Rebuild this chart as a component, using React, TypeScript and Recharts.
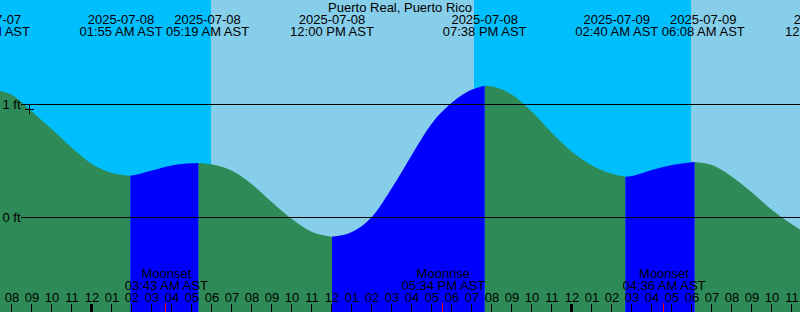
import React from 'react';
import {
  ComposedChart,
  Area,
  XAxis,
  YAxis,
  ReferenceArea,
  ReferenceLine,
  ReferenceDot,
} from 'recharts';

const W = 800;
const H = 312;
const FONT = '"Liberation Sans", Arial, sans-serif';

// hours counted from 2025-07-08 00:00 AST
const X_MIN = -4.6;
const X_MAX = 35.4;
const Y_MIN = -0.832;
const Y_MAX = 1.929;

const title = 'Puerto Real, Puerto Rico';

// hourly tide readings (ft)
const hours = [
  -6, -5, -4, -3, -2, -1, 0, 1, 2, 3, 4, 5, 6, 7, 8, 9, 10, 11, 13, 14, 15, 16, 17,
  18, 19, 20, 21, 22, 23, 24, 25, 26, 27, 28, 29, 30, 31, 32, 33, 34, 35, 36,
];
const heights = [
  1.09, 1.135, 1.088, 0.94, 0.785, 0.62, 0.478, 0.398, 0.376, 0.42, 0.465, 0.484, 0.473,
  0.419, 0.298, 0.139, -0.01, -0.124, -0.124, 0.01, 0.268, 0.56, 0.838, 1.021, 1.136,
  1.164, 1.091, 0.94, 0.752, 0.587, 0.465, 0.391, 0.372, 0.425, 0.469, 0.494, 0.469,
  0.365, 0.225, 0.071, -0.055, -0.16,
];

// high / low tides
const tideTimes = [-5.2, 1.917, 5.317, 12.0, 19.633, 26.667, 30.133, 36.75];
const tideHeights = [1.14, 0.374, 0.487, -0.165, 1.171, 0.365, 0.496, -0.19];
const tideKinds = ['high', 'low', 'high', 'low', 'high', 'low', 'high', 'low'];
const tideDates = [
  '2025-07-07', '2025-07-08', '2025-07-08', '2025-07-08',
  '2025-07-08', '2025-07-09', '2025-07-09', '2025-07-09',
];
const tideClock = [
  '06:48 PM AST', '01:55 AM AST', '05:19 AM AST', '12:00 PM AST',
  '07:38 PM AST', '02:40 AM AST', '06:08 AM AST', '12:45 PM AST',
];

// daylight
const dayStarts = [5.95, 29.95];
const dayEnds = [19.1, X_MAX];

// moon
const moonTimes = [3.717, 17.567, 28.6];
const moonEvents = ['Moonset', 'Moonrise', 'Moonset'];
const moonClock = ['03:43 AM AST', '05:34 PM AST', '04:36 AM AST'];

// "now" marker
const nowTime = -3.125;
const nowHeight = 0.956;

const hourTicks: number[] = [];
for (let h = -4; h <= 35; h++) hourTicks.push(h);

// split the curve into rising / falling pieces
const rows = [
  ...hours.map((h, i) => ({ h, v: heights[i], ext: false })),
  ...tideTimes.map((h, i) => ({ h, v: tideHeights[i], ext: true })),
]
  .sort((a, b) => a.h - b.h)
  .map((r) => {
    let idx = -1;
    for (let i = 0; i < tideTimes.length; i++) if (tideTimes[i] <= r.h) idx = i;
    const rising = idx < 0 ? tideKinds[0] === 'high' : tideKinds[idx] === 'low';
    return {
      h: r.h,
      rise: r.ext || rising ? r.v : null,
      fall: r.ext || !rising ? r.v : null,
    };
  });

// push overlapping tide labels apart
const PX_PER_HOUR = W / (X_MAX - X_MIN);
const LABEL_GAP = 86.5;
const labelShift = tideTimes.map(() => 0);
for (let i = 0; i < tideTimes.length - 1; i++) {
  const d = (tideTimes[i + 1] - tideTimes[i]) * PX_PER_HOUR;
  if (d < LABEL_GAP) {
    const s = (LABEL_GAP - d) / 2;
    labelShift[i] -= s;
    labelShift[i + 1] += s;
  }
}

function clockHour(h: number) {
  const hh = ((h % 12) + 12) % 12;
  return String(hh === 0 ? 12 : hh).padStart(2, '0');
}

const txt = { fontSize: 13, fontFamily: FONT, fill: '#000' };

export default function App() {
  return (
    <div style={{ position: 'fixed', left: 0, top: 0, width: W, height: H, background: '#00BFFF' }}>
      <ComposedChart width={W} height={H} data={rows} margin={{ top: 0, right: 0, bottom: 0, left: 0 }}>
        <XAxis type="number" dataKey="h" domain={[X_MIN, X_MAX]} allowDataOverflow hide />
        <YAxis type="number" domain={[Y_MIN, Y_MAX]} allowDataOverflow hide />

        {dayStarts.map((s, i) => (
          <ReferenceArea
            key={`day-${i}`}
            x1={s}
            x2={dayEnds[i]}
            fill="#87CEEB"
            fillOpacity={1}
            stroke="none"
            ifOverflow="hidden"
          />
        ))}

        <Area
          dataKey="fall"
          type="monotone"
          fill="#2E8B57"
          fillOpacity={1}
          stroke="none"
          baseValue="dataMin"
          dot={false}
          activeDot={false}
          isAnimationActive={false}
        />
        <Area
          dataKey="rise"
          type="monotone"
          fill="#0000FF"
          fillOpacity={1}
          stroke="none"
          baseValue="dataMin"
          dot={false}
          activeDot={false}
          isAnimationActive={false}
        />

        {[0, 1].map((lvl) => (
          <ReferenceLine
            key={`lvl-${lvl}`}
            segment={[
              { x: -3.55, y: lvl },
              { x: X_MAX, y: lvl },
            ]}
            stroke="#000"
            strokeWidth={1}
            shapeRendering="crispEdges"
          />
        ))}
        {[0, 1].map((lvl) => (
          <ReferenceDot
            key={`lbl-${lvl}`}
            x={X_MIN}
            y={lvl}
            r={0}
            ifOverflow="visible"
            shape={(p: any) => (
              <text x={p.cx + 2.5} y={p.cy + 4.3} {...txt}>
                {`${lvl} ft`}
              </text>
            )}
          />
        ))}

        <ReferenceDot
          x={nowTime}
          y={nowHeight}
          r={0}
          ifOverflow="visible"
          shape={(p: any) => (
            <g stroke="#000" strokeWidth={1} shapeRendering="crispEdges">
              <line x1={p.cx - 4.5} x2={p.cx + 4.5} y1={p.cy} y2={p.cy} />
              <line x1={p.cx} x2={p.cx} y1={p.cy - 4.5} y2={p.cy + 4.5} />
            </g>
          )}
        />

        {/* hour axis along the bottom */}
        {hourTicks.map((h) => (
          <ReferenceDot
            key={`hr-${h}`}
            x={h}
            y={Y_MIN}
            r={0}
            ifOverflow="visible"
            shape={(p: any) => {
              const midnight = ((h % 24) + 24) % 24 === 0;
              const lx = Math.round(p.cx) - 0.5;
              return (
                <g>
                  <text x={p.cx} y={p.cy - 10.5} textAnchor="middle" {...txt}>
                    {clockHour(h)}
                  </text>
                  <line
                    x1={lx}
                    x2={lx}
                    y1={p.cy - 8}
                    y2={p.cy}
                    stroke="#000"
                    strokeWidth={midnight ? 3 : 1}
                  />
                </g>
              );
            }}
          />
        ))}

        {moonTimes.map((t, i) => (
          <ReferenceDot
            key={`moon-${i}`}
            x={t}
            y={Y_MIN}
            r={0}
            ifOverflow="visible"
            shape={(p: any) => (
              <g>
                <text x={p.cx} y={p.cy - 34} textAnchor="middle" {...txt}>
                  {moonEvents[i]}
                </text>
                <text x={p.cx} y={p.cy - 22.5} textAnchor="middle" {...txt}>
                  {moonClock[i]}
                </text>
                <line
                  x1={Math.round(p.cx) - 0.5}
                  x2={Math.round(p.cx) - 0.5}
                  y1={p.cy - 9}
                  y2={p.cy}
                  stroke="#FF0000"
                  strokeWidth={1}
                />
              </g>
            )}
          />
        ))}

        {tideTimes.map((t, i) => (
          <ReferenceDot
            key={`tide-${i}`}
            x={t}
            y={Y_MAX}
            r={0}
            ifOverflow="visible"
            shape={(p: any) => (
              <g>
                <text x={p.cx + labelShift[i]} y={p.cy + 24} textAnchor="middle" {...txt}>
                  {tideDates[i]}
                </text>
                <text x={p.cx + labelShift[i]} y={p.cy + 36} textAnchor="middle" {...txt}>
                  {tideClock[i]}
                </text>
              </g>
            )}
          />
        ))}

        <ReferenceDot
          x={(X_MIN + X_MAX) / 2}
          y={Y_MAX}
          r={0}
          ifOverflow="visible"
          shape={(p: any) => (
            <text x={p.cx} y={p.cy + 12} textAnchor="middle" {...txt}>
              {title}
            </text>
          )}
        />
      </ComposedChart>
    </div>
  );
}
